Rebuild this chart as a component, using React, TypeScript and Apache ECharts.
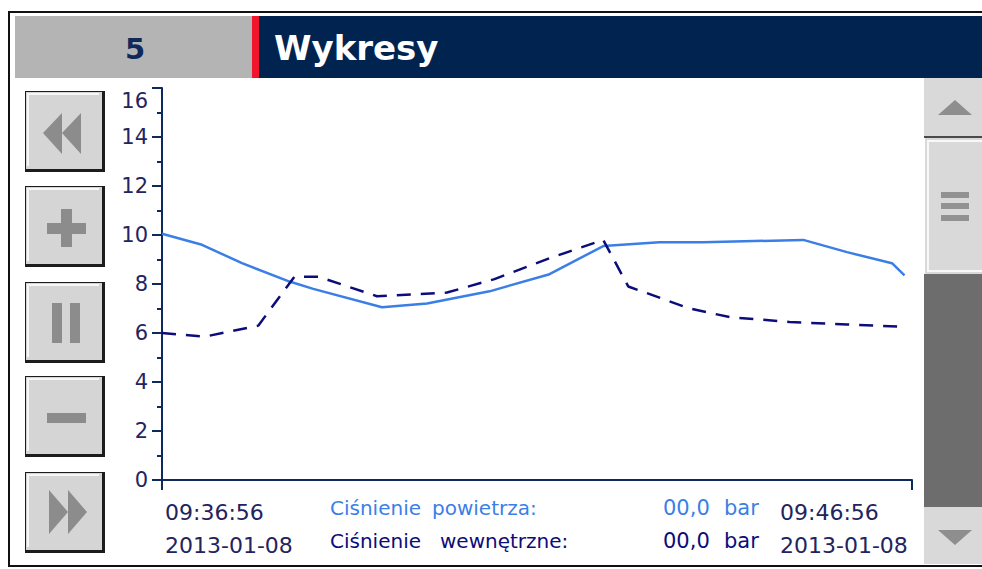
import React, { useEffect, useRef } from "react";
import * as echarts from "echarts";

// ---- data ----
const screenNumber = "5";
const screenTitle = "Wykresy";
const yTicks = [0, 2, 4, 6, 8, 10, 12, 14, 16];
const xStartLabel = ["09:36:56", "2013-01-08"];
const xEndLabel = ["09:46:56", "2013-01-08"];
const spanSeconds = 600;
// seconds after 09:36:56
const airTimes = [0, 32, 64, 102, 121, 176, 212, 262, 310, 353, 398, 433, 513, 548, 584, 594];
const airValues = [10.05, 9.6, 8.85, 8.1, 7.8, 7.05, 7.2, 7.7, 8.4, 9.55, 9.7, 9.7, 9.8, 9.3, 8.85, 8.35];
const innerTimes = [0, 34, 77, 106, 125, 172, 228, 266, 310, 353, 373, 422, 454, 502, 548, 596];
const innerValues = [6.0, 5.85, 6.3, 8.3, 8.3, 7.5, 7.65, 8.2, 9.05, 9.8, 7.9, 7.0, 6.65, 6.45, 6.35, 6.25];
const legendFirst = ["Ciśnienie", "Ciśnienie"];
const legendSecond = ["powietrza:", "wewnętrzne:"];
const legendValues = ["00,0", "00,0"];
const legendUnit = "bar";

const AIR = "#3b7fe6";
const INNER = "#0c0c7a";
const NAVY = "#00234f";
const AXIS = "#0d2a5c";
const FONT = "DejaVu Sans";

function button(top: number, icon: any[]) {
  const x = 25, w = 80, h = 81;
  return {
    type: "group",
    children: [
      { type: "rect", shape: { x, y: top, width: w, height: h }, style: { fill: "#1c1c1c" } },
      { type: "rect", shape: { x: x + 1, y: top + 1, width: w - 4, height: h - 4 }, style: { fill: "#d5d5d5" } },
      { type: "polyline", shape: { points: [[x + 3, top + h - 6], [x + 3, top + 3], [x + w - 6, top + 3]] }, style: { stroke: "#f6f6f6", lineWidth: 2, fill: null } },
      ...icon,
    ],
  };
}

const ICON = "#8c8c8c";

export default function App() {
  const ref = useRef<HTMLDivElement>(null);
  useEffect(() => {
    document.body.style.margin = "0";
    const chart = echarts.init(ref.current!, undefined, { renderer: "svg" });
    const graphic: any[] = [
      // header
      { type: "rect", shape: { x: 15, y: 16, width: 237, height: 62 }, style: { fill: "#b4b4b4" } },
      { type: "rect", shape: { x: 252, y: 16, width: 7, height: 62 }, style: { fill: "#f0142d" } },
      { type: "rect", shape: { x: 259, y: 16, width: 730, height: 62 }, style: { fill: NAVY } },
      { type: "text", x: 135, y: 49, style: { text: screenNumber, fill: "#0f2a5a", font: `bold 29px "${FONT}"`, align: "center", verticalAlign: "middle" } },
      { type: "text", x: 274, y: 48, style: { text: screenTitle, fill: "#ffffff", font: `bold 34px "${FONT}"`, align: "left", verticalAlign: "middle" } },
      // buttons
      button(91, [
        { type: "polygon", shape: { points: [[43, 133], [62, 113], [62, 154]] }, style: { fill: ICON } },
        { type: "polygon", shape: { points: [[62, 133], [81, 113], [81, 154]] }, style: { fill: ICON } },
      ]),
      button(186, [
        { type: "rect", shape: { x: 47, y: 223, width: 39, height: 11 }, style: { fill: ICON } },
        { type: "rect", shape: { x: 61, y: 209, width: 11, height: 38 }, style: { fill: ICON } },
      ]),
      button(282, [
        { type: "rect", shape: { x: 52, y: 303, width: 10, height: 40 }, style: { fill: ICON } },
        { type: "rect", shape: { x: 70, y: 303, width: 10, height: 40 }, style: { fill: ICON } },
      ]),
      button(376, [
        { type: "rect", shape: { x: 47, y: 413, width: 39, height: 10 }, style: { fill: ICON } },
      ]),
      button(472, [
        { type: "polygon", shape: { points: [[49, 490], [68, 512], [49, 534]] }, style: { fill: ICON } },
        { type: "polygon", shape: { points: [[68, 490], [87, 512], [68, 534]] }, style: { fill: ICON } },
      ]),
      // scrollbar
      { type: "rect", shape: { x: 924, y: 78, width: 60, height: 58 }, style: { fill: "#d9d9d9" } },
      { type: "polygon", shape: { points: [[938, 115], [955, 100], [972, 115]] }, style: { fill: "#8e8e8e" } },
      { type: "rect", shape: { x: 924, y: 136, width: 60, height: 2 }, style: { fill: "#4a4a4a" } },
      { type: "rect", shape: { x: 925, y: 138, width: 60, height: 136 }, style: { fill: "#d9d9d9" } },
      { type: "rect", shape: { x: 928, y: 141, width: 60, height: 130 }, style: { fill: null, stroke: "#f8f8f8", lineWidth: 2 } },
      { type: "rect", shape: { x: 941, y: 192, width: 28, height: 6 }, style: { fill: "#929292" } },
      { type: "rect", shape: { x: 941, y: 203, width: 28, height: 6 }, style: { fill: "#929292" } },
      { type: "rect", shape: { x: 941, y: 215, width: 28, height: 6 }, style: { fill: "#929292" } },
      { type: "rect", shape: { x: 924, y: 274, width: 60, height: 233 }, style: { fill: "#6d6d6d" } },
      { type: "rect", shape: { x: 924, y: 507, width: 60, height: 57 }, style: { fill: "#d9d9d9" } },
      { type: "polygon", shape: { points: [[938, 530], [955, 545], [972, 530]] }, style: { fill: "#8e8e8e" } },
      // outer frame
      { type: "rect", shape: { x: 9, y: 12, width: 990, height: 554 }, style: { fill: null, stroke: "#111", lineWidth: 2 } },
    ];
    // time labels
    [xStartLabel, xEndLabel].forEach((lab, i) => {
      const x = i === 0 ? 165 : 780;
      lab.forEach((t, j) => {
        graphic.push({ type: "text", x, y: j === 0 ? 512 : 545, style: { text: t, fill: "#23235e", font: `22px "${FONT}"`, align: "left", verticalAlign: "middle" } });
      });
    });
    // legend
    legendFirst.forEach((t, i) => {
      const fill = i === 0 ? AIR : INNER;
      const y = i === 0 ? 508 : 541;
      graphic.push({ type: "text", x: 330, y, style: { text: t, fill, font: `20px "${FONT}"`, align: "left", verticalAlign: "middle" } });
      graphic.push({ type: "text", x: i === 0 ? 432 : 440, y, style: { text: legendSecond[i], fill, font: `20px "${FONT}"`, align: "left", verticalAlign: "middle" } });
      graphic.push({ type: "text", x: 663, y, style: { text: legendValues[i], fill, font: `21px "${FONT}"`, align: "left", verticalAlign: "middle" } });
      graphic.push({ type: "text", x: 724, y, style: { text: legendUnit, fill, font: `21px "${FONT}"`, align: "left", verticalAlign: "middle" } });
    });

    const yMax = yTicks[yTicks.length - 1];

    chart.setOption({
      animation: false,
      backgroundColor: "#ffffff",
      grid: { left: 162, top: 88, width: 750, height: 392, containLabel: false },
      xAxis: {
        type: "value",
        min: 0,
        max: spanSeconds,
        interval: spanSeconds,
        offset: 5,
        axisLine: { show: true, lineStyle: { color: AXIS, width: 2 } },
        axisTick: { show: true, length: 10, lineStyle: { color: AXIS, width: 2 } },
        axisLabel: { show: false },
        splitLine: { show: false },
      },
      yAxis: {
        type: "value",
        min: yTicks[0],
        max: yMax,
        interval: yTicks[1] - yTicks[0],
        axisLine: { show: true, lineStyle: { color: AXIS, width: 2 } },
        axisTick: { show: true, length: 10, lineStyle: { color: AXIS, width: 2 } },
        minorTick: { show: true, splitNumber: 2, length: 5, lineStyle: { color: AXIS, width: 2 } },
        axisLabel: {
          show: true,
          margin: 14,
          color: "#24245e",
          fontFamily: FONT,
          fontSize: 21,
          formatter: (v: number) => (v === yMax ? `{top|${v}}` : `${v}`),
          rich: { top: { color: "#24245e", fontFamily: FONT, fontSize: 21, padding: [25, 0, 0, 0] } },
        },
        splitLine: { show: false },
      },
      graphic,
      series: [
        {
          type: "line",
          data: airTimes.map((t, i) => [t, airValues[i]]),
          showSymbol: false,
          lineStyle: { color: AIR, width: 2.5 },
          itemStyle: { color: AIR },
        },
        {
          type: "line",
          data: innerTimes.map((t, i) => [t, innerValues[i]]),
          showSymbol: false,
          lineStyle: { color: INNER, width: 2.5, type: [14, 10] },
          itemStyle: { color: INNER },
        },
      ],
    });
    return () => chart.dispose();
  }, []);
  return <div ref={ref} style={{ width: 982, height: 569 }} />;
}
